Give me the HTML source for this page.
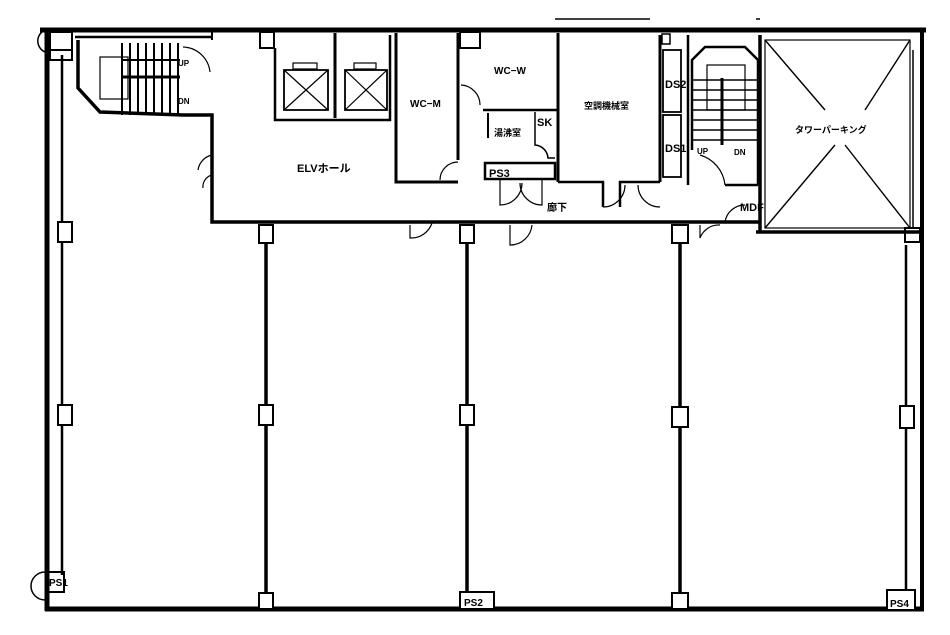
<!DOCTYPE html>
<html><head><meta charset="utf-8"><style>
html,body{margin:0;padding:0;background:#fff;}
svg{display:block}
text{font-family:"Liberation Sans","Noto Sans CJK JP",sans-serif;fill:#000;font-weight:bold}
</style></head><body>
<svg width="950" height="635" viewBox="0 0 950 635" xmlns="http://www.w3.org/2000/svg">
<g fill="none" stroke="#000">
<line x1="555" y1="19" x2="650" y2="19" stroke-width="1.5"/>
<line x1="756" y1="19" x2="760" y2="19" stroke-width="1.5"/>
<line x1="40" y1="30" x2="926" y2="30" stroke-width="5"/>
<line x1="47" y1="30" x2="47" y2="611" stroke-width="5"/>
<line x1="62" y1="55" x2="62" y2="575" stroke-width="2.5"/>
<line x1="45" y1="609" x2="924" y2="609" stroke-width="5"/>
<line x1="922" y1="30" x2="922" y2="611" stroke-width="4"/>
<line x1="906" y1="245" x2="906" y2="592" stroke-width="2.5"/>
<path d="M45,52 A12,12 0 0 1 45,30" stroke-width="1.5"/>
<rect x="50" y="32" width="22" height="18" stroke-width="2"/>
<rect x="50" y="50" width="22" height="10" stroke-width="2"/>
<path d="M45,600 A14,14 0 0 1 45,572" stroke-width="1.5"/>
<rect x="48" y="572" width="16" height="20" stroke-width="2"/>
<path d="M78,40 L78,88 L100,112 L183,115 L212,115 L212,222 L760,222" stroke-width="3.5"/>
<line x1="75" y1="37" x2="212" y2="37" stroke-width="2.5"/>
<line x1="212" y1="30" x2="212" y2="40" stroke-width="2"/>
<rect x="100" y="57" width="28" height="42" stroke-width="1.2"/>
<g stroke-width="2">
<line x1="122" y1="43" x2="122" y2="115"/><line x1="130" y1="43" x2="130" y2="115"/>
<line x1="138" y1="43" x2="138" y2="115"/><line x1="146" y1="43" x2="146" y2="115"/>
<line x1="154" y1="43" x2="154" y2="115"/><line x1="162" y1="43" x2="162" y2="115"/>
<line x1="170" y1="43" x2="170" y2="115"/><line x1="178" y1="43" x2="178" y2="115"/>
<line x1="122" y1="77" x2="180" y2="77" stroke-width="3"/>
<line x1="122" y1="60" x2="180" y2="60"/>
</g>
<path d="M183,47 A28,28 0 0 1 210,72" stroke-width="1.2"/>
<path d="M212,155 A18,18 0 0 0 198,170" stroke-width="1.2"/>
<path d="M212,175 A12,12 0 0 0 203,188" stroke-width="1.2"/>
<rect x="260" y="32" width="14" height="16" stroke-width="2"/>
<path d="M275,48 L275,120 L390,120 L390,35" stroke-width="2.5"/>
<line x1="335" y1="33" x2="335" y2="118" stroke-width="3"/>
<rect x="284" y="70" width="44" height="40" stroke-width="1.8"/>
<line x1="284" y1="70" x2="328" y2="110" stroke-width="1.2"/><line x1="328" y1="70" x2="284" y2="110" stroke-width="1.2"/>
<rect x="293" y="63" width="24" height="6" stroke-width="1.2"/>
<rect x="345" y="70" width="42" height="40" stroke-width="1.8"/>
<line x1="345" y1="70" x2="387" y2="110" stroke-width="1.2"/><line x1="387" y1="70" x2="345" y2="110" stroke-width="1.2"/>
<rect x="354" y="63" width="22" height="6" stroke-width="1.2"/>
<path d="M396,33 L396,182 L458,182" stroke-width="3"/>
<line x1="458" y1="33" x2="458" y2="160" stroke-width="3"/>
<path d="M440,180 A18,18 0 0 1 458,162" stroke-width="1.2"/>
<rect x="460" y="32" width="20" height="16" stroke-width="2"/>
<line x1="483" y1="110" x2="557" y2="110" stroke-width="2.5"/>
<line x1="558" y1="33" x2="558" y2="182" stroke-width="3"/>
<path d="M461,85 A20,20 0 0 1 480,105" stroke-width="1.2"/>
<line x1="488" y1="113" x2="488" y2="138" stroke-width="2"/>
<path d="M535,112 L535,145 A14,14 0 0 1 548,158 L555,158" stroke-width="1.5"/>
<rect x="485" y="163" width="70" height="16" stroke-width="2.5"/>
<path d="M500,180 L500,205 A22,22 0 0 0 522,183 M542,180 L542,205 A22,22 0 0 1 520,183" stroke-width="1.2"/>
<path d="M558,182 L603,182 L603,207 M660,182 L620,182 L620,207" stroke-width="2.5"/>
<path d="M603,207 A22,22 0 0 0 625,185 M660,207 A22,22 0 0 1 638,185" stroke-width="1.2"/>
<line x1="660" y1="35" x2="660" y2="182" stroke-width="3"/>
<rect x="662" y="34" width="8" height="10" stroke-width="1.5"/>
<rect x="663" y="50" width="18" height="62" stroke-width="1.8"/>
<rect x="663" y="115" width="18" height="62" stroke-width="1.8"/>
<line x1="688" y1="35" x2="688" y2="185" stroke-width="2.5"/>
<path d="M692,150 L692,60 L705,47 L745,47 L758,60 L758,185" stroke-width="2.5"/>
<rect x="707" y="65" width="38" height="45" stroke-width="1.2"/>
<g stroke-width="1.5">
<line x1="692" y1="80" x2="758" y2="80"/><line x1="692" y1="90" x2="758" y2="90"/>
<line x1="692" y1="100" x2="758" y2="100"/><line x1="692" y1="110" x2="758" y2="110"/>
<line x1="692" y1="120" x2="758" y2="120"/><line x1="692" y1="130" x2="758" y2="130"/>
<line x1="692" y1="140" x2="758" y2="140"/>
<line x1="722" y1="78" x2="722" y2="145" stroke-width="3"/>
</g>
<path d="M700,155 A35,35 0 0 1 725,185" stroke-width="1.2"/>
<path d="M725,185 L758,185" stroke-width="2.5"/>
<path d="M745,205 A20,20 0 0 0 725,222" stroke-width="1.2"/>
<line x1="760" y1="35" x2="760" y2="232" stroke-width="3.5"/>
<line x1="756" y1="232" x2="920" y2="232" stroke-width="3.5"/>
<rect x="765" y="40" width="145" height="188" stroke-width="1.2"/>
<line x1="765" y1="40" x2="825" y2="110" stroke-width="1.4"/>
<line x1="910" y1="40" x2="865" y2="110" stroke-width="1.4"/>
<line x1="765" y1="228" x2="835" y2="145" stroke-width="1.4"/>
<line x1="910" y1="228" x2="845" y2="145" stroke-width="1.4"/>
<rect x="905" y="228" width="15" height="14" stroke-width="2"/>
<line x1="913" y1="50" x2="913" y2="228" stroke-width="1.5"/>
<path d="M410,225 L410,238 A22,22 0 0 0 432,223 M510,225 L510,245 A22,22 0 0 0 532,225 M700,225 L700,238 A20,20 0 0 1 720,225" stroke-width="1.2"/>
<line x1="266" y1="230" x2="266" y2="608" stroke-width="3.5"/>
<line x1="467" y1="230" x2="467" y2="608" stroke-width="3.5"/>
<line x1="680" y1="230" x2="680" y2="608" stroke-width="3.5"/>
</g>
<g fill="#fff" stroke="#000" stroke-width="2">
<rect x="58" y="222" width="14" height="20"/><rect x="58" y="405" width="14" height="20"/>
<rect x="259" y="225" width="14" height="18"/><rect x="259" y="405" width="14" height="20"/><rect x="259" y="593" width="14" height="16"/>
<rect x="460" y="225" width="14" height="18"/><rect x="460" y="405" width="14" height="20"/><rect x="460" y="592" width="34" height="17"/>
<rect x="672" y="225" width="16" height="18"/><rect x="672" y="407" width="16" height="20"/><rect x="672" y="593" width="16" height="16"/>
<rect x="900" y="406" width="14" height="22"/><rect x="887" y="590" width="28" height="20"/>
</g>
<g font-size="10">
<text x="178" y="66" font-size="8">UP</text>
<text x="178" y="104" font-size="8">DN</text>
<text x="297" y="172" font-size="11">ELVホール</text>
<text x="410" y="107">WC−M</text>
<text x="494" y="74">WC−W</text>
<text x="494" y="136" font-size="9">湯沸室</text>
<text x="537" y="126" font-size="11">SK</text>
<text x="489" y="177" font-size="11">PS3</text>
<text x="584" y="109" font-size="9">空調機械室</text>
<text x="547" y="211" font-size="10">廊下</text>
<text x="665" y="88" font-size="11">DS2</text>
<text x="665" y="152" font-size="11">DS1</text>
<text x="697" y="154" font-size="8">UP</text>
<text x="734" y="155" font-size="8">DN</text>
<text x="740" y="211" font-size="11">MDF</text>
<text x="795" y="133" font-size="9">タワーパーキング</text>
<text x="49" y="586" font-size="10">PS1</text>
<text x="464" y="606" font-size="10">PS2</text>
<text x="890" y="607" font-size="10">PS4</text>
</g>
</svg>
</body></html>
